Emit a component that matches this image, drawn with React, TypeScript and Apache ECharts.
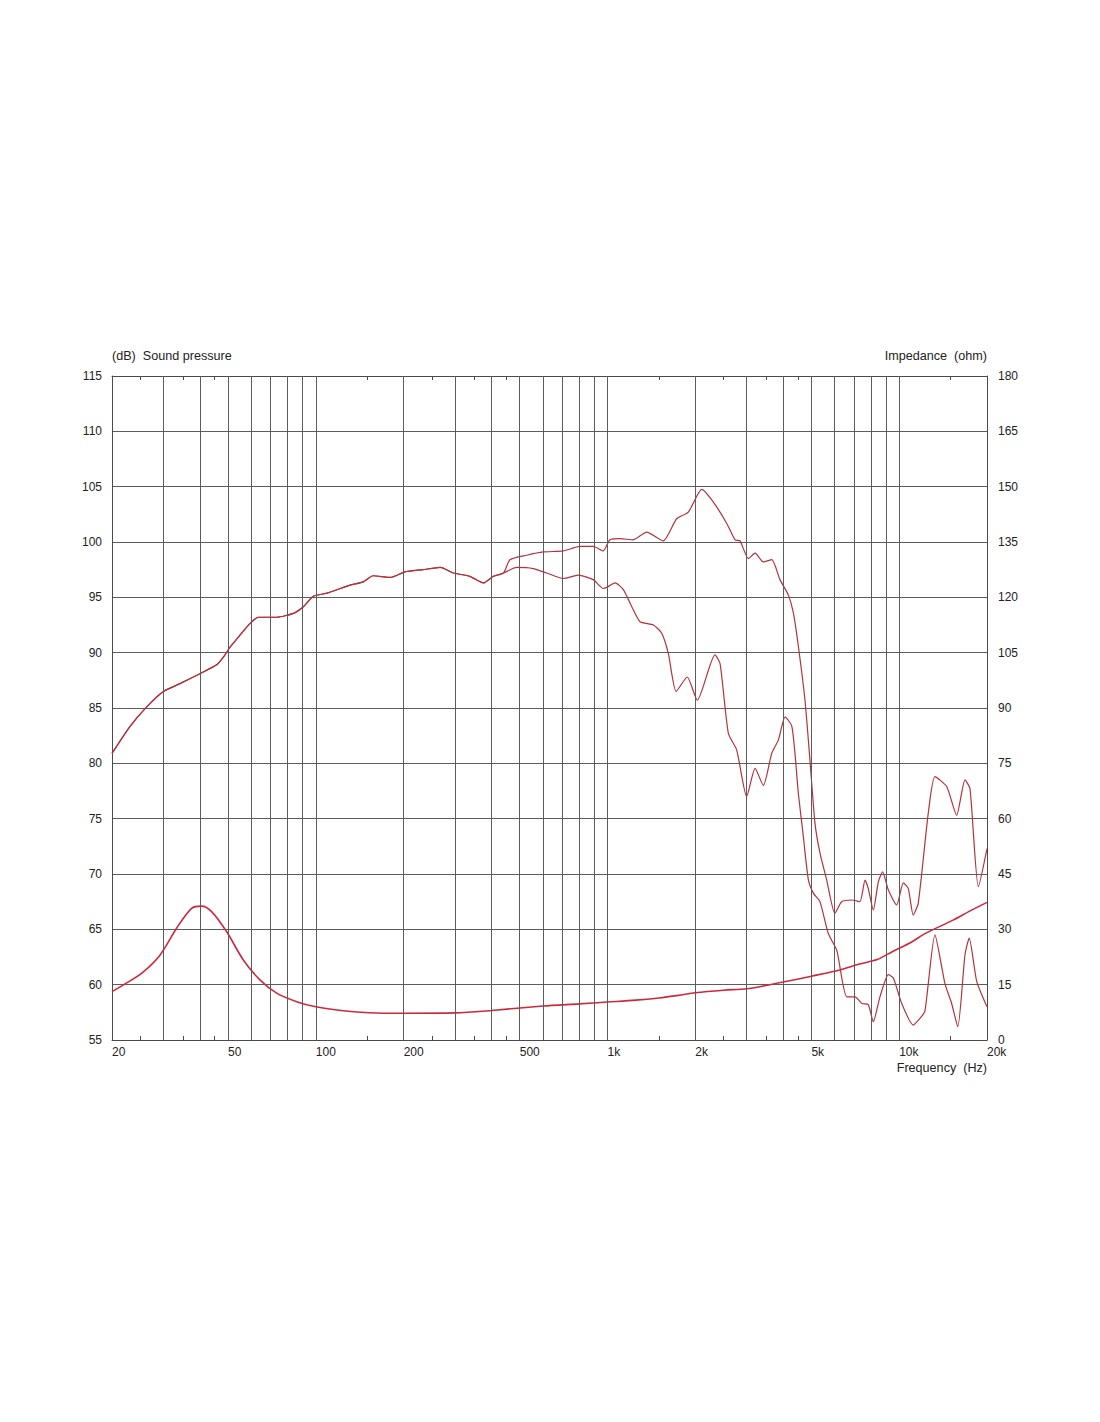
import React, { useEffect, useRef } from "react";
import * as echarts from "echarts";

// ---- Data ----
// Shared SPL segment (both measurements overlap below ~440 Hz)
const sharedFreq = [20, 23, 26.3, 30, 34.2, 40, 45.7, 48.8, 50.8, 55, 59.5, 63.5, 73.4, 83.7, 90.6, 98, 110, 131, 145.5, 157, 180, 202, 233, 267, 296, 337, 375, 406, 440];
const sharedSpl = [80.9, 83.3, 85.1, 86.5, 87.2, 88.1, 88.9, 89.8, 90.5, 91.6, 92.65, 93.2, 93.2, 93.55, 94.15, 95.1, 95.4, 96.1, 96.4, 96.95, 96.8, 97.3, 97.5, 97.7, 97.2, 96.9, 96.3, 96.9, 97.2];

// Upper SPL curve (on axis) above 440 Hz
const onAxisFreq = [463, 528, 602, 705, 805, 893, 967, 1019, 1104, 1225, 1362, 1553, 1725, 1892, 2104, 2306, 2561, 2736, 2846, 3041, 3205, 3422, 3656, 3902, 4169, 4337, 4510, 4753, 4943, 5143, 5349, 5637, 6020, 6349, 6870, 7334, 7635, 7832, 8150, 8483, 8774, 9180, 9800, 10330, 10740, 11170, 11620, 12580, 13260, 14550, 15740, 16810, 17490, 18680, 20000];
const onAxisSpl = [98.4, 98.8, 99.1, 99.2, 99.6, 99.6, 99.2, 100.2, 100.3, 100.2, 100.9, 100.1, 102.1, 102.7, 104.75, 103.6, 101.7, 100.2, 100.1, 98.5, 99.0, 98.2, 98.4, 96.6, 95.2, 93.6, 90.6, 85.7, 80.3, 74.6, 71.9, 69.5, 66.45, 67.5, 67.65, 67.5, 69.45, 68.7, 66.75, 69.3, 70.2, 68.55, 67.2, 69.2, 68.7, 66.3, 67.35, 75.5, 78.8, 77.9, 75.3, 78.5, 77.7, 68.85, 72.3];

// Lower SPL curve (off axis) above 440 Hz
const offAxisFreq = [488, 556, 618, 705, 794, 893, 967, 993, 1062, 1133, 1211, 1292, 1436, 1534, 1617, 1719, 1876, 2031, 2335, 2432, 2596, 2773, 3000, 3205, 3422, 3656, 3851, 4063, 4278, 4392, 4510, 4691, 4880, 5083, 5349, 5717, 6110, 6610, 7060, 7450, 7832, 8150, 8590, 9180, 9550, 10200, 11170, 11780, 12250, 13260, 14350, 15130, 15880, 16810, 17380, 18440, 20000];
const offAxisSpl = [97.7, 97.6, 97.2, 96.7, 97.0, 96.6, 95.8, 95.9, 96.3, 95.7, 94.15, 92.8, 92.5, 91.75, 89.9, 86.5, 87.8, 85.7, 89.8, 89.0, 82.7, 81.2, 77.0, 79.55, 78.0, 80.9, 82.1, 84.2, 83.4, 80.9, 77.3, 73.4, 69.5, 68.25, 67.5, 64.6, 63.1, 58.9, 58.9, 58.3, 58.2, 56.65, 58.9, 60.9, 60.6, 58.3, 56.35, 56.95, 57.6, 64.5, 60.1, 58.3, 56.2, 62.7, 64.2, 60.3, 58.0];

// Impedance (ohm)
const impFreq = [20, 22.4, 25.3, 29.2, 33.3, 37.5, 40.6, 43.9, 49.4, 56.4, 64.3, 73.4, 85.9, 100, 124, 153, 200, 300, 400, 600, 800, 1000, 1250, 1500, 1750, 2000, 2500, 3000, 3500, 4000, 5000, 6250, 7300, 8400, 9500, 11000, 12300, 15300, 17500, 20000];
const impOhm = [13.1, 15.4, 18.1, 23.0, 30.3, 35.7, 36.3, 34.8, 29.4, 21.7, 16.3, 12.7, 10.4, 9.0, 7.95, 7.4, 7.25, 7.35, 8.0, 9.2, 9.8, 10.3, 10.8, 11.4, 12.1, 12.8, 13.5, 13.9, 14.8, 15.7, 17.3, 19.0, 20.6, 21.8, 24.0, 26.5, 28.9, 32.5, 35.0, 37.3];

// Axes
const xLabelValues = [20, 50, 100, 200, 500, 1000, 2000, 5000, 10000, 20000];
const gridFreqs = [30, 40, 50, 60, 70, 80, 90, 100, 200, 300, 400, 500, 600, 700, 800, 900, 1000, 2000, 3000, 4000, 5000, 6000, 7000, 8000, 9000, 10000];
const minorTickFreqs = [25, 35, 45, 150, 250, 350, 450, 1500, 2500, 3500, 4500, 15000];
const splMin = 55, splMax = 115, splStep = 5;
const impMin = 0, impMax = 180, impStep = 15;

const zip = (xs: number[], ys: number[]) => xs.map((x, i) => [x, ys[i]]);

const FONT = "'Liberation Sans', Arial, sans-serif";
const GRID_COLOR = "#5c5c5c";
const AXIS_COLOR = "#4a4a4a";
const TEXT_COLOR = "#222";

export default function App() {
  const ref = useRef<HTMLDivElement>(null);
  useEffect(() => {
    if (!ref.current) return;
    const chart = echarts.init(ref.current, null, { renderer: "svg" });
    const fmt = (v: number) => (v >= 1000 ? `${Math.round(v / 1000)}k` : `${Math.round(v)}`);
    const xCommon = {
      type: "log" as const,
      logBase: 10,
      min: 20,
      max: 20000,
      axisLine: { show: true, lineStyle: { color: AXIS_COLOR, width: 1 } },
      axisTick: { show: true, inside: true, length: 4, customValues: minorTickFreqs, lineStyle: { color: AXIS_COLOR } },
      splitLine: { show: false },
      minorTick: { show: false },
      minorSplitLine: { show: false },
    };
    const option: any = {
      animation: false,
      backgroundColor: "#ffffff",
      textStyle: { fontFamily: FONT },
      grid: { left: 112, right: 113, top: 376, bottom: 382, containLabel: false },
      xAxis: [
        {
          ...xCommon,
          position: "bottom",
          axisLabel: {
            customValues: xLabelValues,
            formatter: fmt,
            align: "left",
            margin: 6,
            color: TEXT_COLOR,
            fontSize: 12,
            fontFamily: FONT,
          },
        },
        {
          ...xCommon,
          position: "top",
          axisLabel: { show: false },
        },
      ],
      yAxis: [
        {
          type: "value",
          position: "left",
          min: splMin,
          max: splMax,
          interval: splStep,
          axisLine: { show: true, lineStyle: { color: AXIS_COLOR } },
          axisTick: { show: false },
          axisLabel: { margin: 10, color: TEXT_COLOR, fontSize: 12, fontFamily: FONT },
          splitLine: { show: true, lineStyle: { color: GRID_COLOR, width: 1 } },
        },
        {
          type: "value",
          position: "right",
          min: impMin,
          max: impMax,
          interval: impStep,
          axisLine: { show: true, lineStyle: { color: AXIS_COLOR } },
          axisTick: { show: false },
          axisLabel: { margin: 11, color: TEXT_COLOR, fontSize: 12, fontFamily: FONT },
          splitLine: { show: false },
        },
      ],
      graphic: [
        {
          type: "text",
          left: 112,
          top: 349,
          style: { text: "(dB)  Sound pressure", fill: TEXT_COLOR, font: `12.6px ${FONT}` },
        },
        {
          type: "text",
          right: 113,
          top: 349,
          style: { text: "Impedance  (ohm)", fill: TEXT_COLOR, font: `12.6px ${FONT}` },
        },
        {
          type: "text",
          right: 113,
          top: 1061,
          style: { text: "Frequency  (Hz)", fill: TEXT_COLOR, font: `12.6px ${FONT}` },
        },
      ],
      series: [
        {
          name: "grid",
          type: "line",
          xAxisIndex: 0,
          yAxisIndex: 0,
          data: [[20, 55]],
          showSymbol: false,
          symbol: "none",
          lineStyle: { opacity: 0 },
          silent: true,
          z: 1,
          markLine: {
            silent: true,
            symbol: ["none", "none"],
            label: { show: false },
            emphasis: { disabled: true },
            lineStyle: { type: "solid", color: GRID_COLOR, width: 1 },
            data: gridFreqs.map((f) => ({ xAxis: f })),
          },
        },
        {
          name: "SPL on-axis",
          type: "line",
          xAxisIndex: 0,
          yAxisIndex: 0,
          data: zip(sharedFreq.concat(onAxisFreq), sharedSpl.concat(onAxisSpl)),
          showSymbol: false,
          symbol: "none",
          smooth: 0.2,
          lineStyle: { color: "#b3323c", width: 1.2 },
          z: 3,
        },
        {
          name: "SPL off-axis",
          type: "line",
          xAxisIndex: 0,
          yAxisIndex: 0,
          data: zip(sharedFreq.concat(offAxisFreq), sharedSpl.concat(offAxisSpl)),
          showSymbol: false,
          symbol: "none",
          smooth: 0.2,
          lineStyle: { color: "#b3323c", width: 1.2 },
          z: 3,
        },
        {
          name: "Impedance",
          type: "line",
          xAxisIndex: 0,
          yAxisIndex: 1,
          data: zip(impFreq, impOhm),
          showSymbol: false,
          symbol: "none",
          smooth: 0.3,
          lineStyle: { color: "#cc2a3c", width: 1.6 },
          z: 4,
        },
      ],
    };
    chart.setOption(option);
    return () => chart.dispose();
  }, []);
  return (
    <div
      ref={ref}
      style={{ position: "absolute", left: 0, top: 0, width: 1100, height: 1422, background: "#fff" }}
    />
  );
}
